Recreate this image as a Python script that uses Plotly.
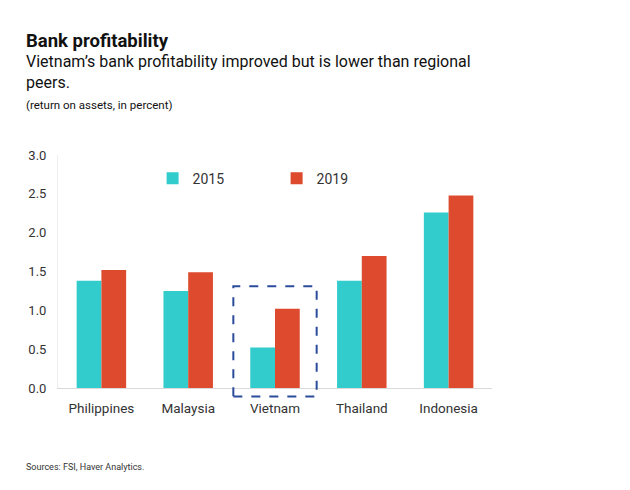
import plotly.graph_objects as go

countries = ["Philippines", "Malaysia", "Vietnam", "Thailand", "Indonesia"]
roa_2015 = [1.38, 1.25, 0.52, 1.38, 2.26]
roa_2019 = [1.52, 1.49, 1.02, 1.70, 2.48]
y_ticks = [0.0, 0.5, 1.0, 1.5, 2.0, 2.5, 3.0]
y_max = 3.0
highlight = "Vietnam"

TEAL = "#33CCCC"
RED = "#DD4A2E"
FONT = "Roboto"

fig = go.Figure()
fig.add_trace(go.Bar(x=countries, y=roa_2015, name="2015", marker=dict(color=TEAL, line_width=0)))
fig.add_trace(go.Bar(x=countries, y=roa_2019, name="2019", marker=dict(color=RED, line_width=0)))

# dashed highlight box around the Vietnam group (extends just below the axis)
hi = countries.index(highlight)
n = len(countries)
fig.add_shape(type="rect", xref="paper", yref="paper",
              x0=(hi + 0.02) / n, x1=(hi + 0.98) / n,
              y0=-0.11 / y_max, y1=1.31 / y_max,
              line=dict(color="#2B4C9B", width=2, dash="dash"), fillcolor="rgba(0,0,0,0)")

fig.update_layout(
    width=622, height=482,
    paper_bgcolor="white", plot_bgcolor="white",
    margin=dict(l=50, r=138, t=147, b=102, autoexpand=False),
    barmode="group", bargap=0.43, bargroupgap=0,
    font=dict(family=FONT, size=13, color="#333333"),
    showlegend=True,
    legend=dict(orientation="h", x=0.218, y=0.967, xanchor="left", yanchor="top",
                entrywidth=79, itemwidth=30, font=dict(size=14, color="#333333"),
                bgcolor="rgba(0,0,0,0)"),
    xaxis=dict(showline=True, linecolor="#D9D9D9", linewidth=1, ticks="",
               tickfont=dict(size=13.5, color="#333333"), showgrid=False,
               ticklabelstandoff=8),
    yaxis=dict(range=[0, y_max], tickvals=y_ticks, tickformat=".1f",
               showline=True, linecolor="#EEEEEE", showgrid=False, zeroline=False,
               ticks="", tickfont=dict(size=13, color="#333333"), ticklabelstandoff=8),
)

def py(p):
    return (388 - p) / 233

XL = -0.078
fig.add_annotation(xref="paper", yref="paper", x=XL, y=py(41), xanchor="left", yanchor="middle",
                   text="<b>Bank profitability</b>", showarrow=False,
                   font=dict(family=FONT, size=18.5, color="#111111"))
fig.add_annotation(xref="paper", yref="paper", x=XL, y=py(72), xanchor="left", yanchor="middle",
                   text="Vietnam’s bank profitability improved but is lower than regional<br>peers.",
                   showarrow=False, align="left",
                   font=dict(family=FONT, size=16, color="#111111"))
fig.add_annotation(xref="paper", yref="paper", x=XL, y=py(105), xanchor="left", yanchor="middle",
                   text="(return on assets, in percent)", showarrow=False,
                   font=dict(family=FONT, size=11.5, color="#111111"))
fig.add_annotation(xref="paper", yref="paper", x=XL, y=py(467), xanchor="left", yanchor="middle",
                   text="Sources: FSI, Haver Analytics.", showarrow=False,
                   font=dict(family=FONT, size=9, color="#333333"))

fig.write_html("out.html")
